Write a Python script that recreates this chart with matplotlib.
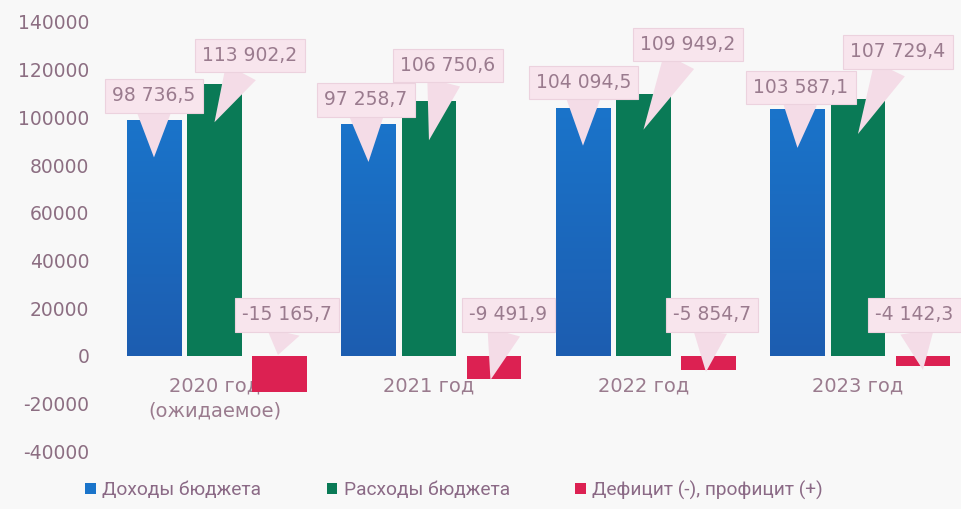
import matplotlib
matplotlib.use('Agg')
import matplotlib.pyplot as plt
import numpy as np
from matplotlib.patches import Patch
from matplotlib.colors import LinearSegmentedColormap

# ---------------- data ----------------
years = ['2020 год\n(ожидаемое)', '2021 год', '2022 год', '2023 год']
income = [98736.5, 97258.7, 104094.5, 103587.1]
expense = [113902.2, 106750.6, 109949.2, 107729.4]
balance = [-15165.7, -9491.9, -5854.7, -4142.3]
income_lbl = ['98 736,5', '97 258,7', '104 094,5', '103 587,1']
expense_lbl = ['113 902,2', '106 750,6', '109 949,2', '107 729,4']
balance_lbl = ['-15 165,7', '-9 491,9', '-5 854,7', '-4 142,3']
series_names = ['Доходы бюджета', 'Расходы бюджета', 'Дефицит (-), профицит (+)']
ytick_vals = [-40000, -20000, 0, 20000, 40000, 60000, 80000, 100000, 120000, 140000]
ytick_lbls = ['-40000', '-20000', '0', '20000', '40000', '60000', '80000',
              '100000', '120000', '140000']

# ---------------- style / layout ----------------
W, H, DPI = 962, 509, 100
BG = '#f8f8f8'
BLUE_TOP, BLUE_BOT = '#1a74ca', '#1d5db0'
GREEN = '#0a7a56'
RED = '#dc2152'
TXT = '#9a7b8e'
TICK = '#8c6e82'
BOX_FC = '#f8e5ed'
BOX_EC = '#ecd2de'
WEDGE = '#f4dce7'

fig = plt.figure(figsize=(W / DPI, H / DPI), dpi=DPI, facecolor=BG)
ax = fig.add_axes([110 / W, (H - 451.4) / H, 852 / W, (451.4 - 22) / H])
ax.set_facecolor('none')

x = np.arange(len(years))
bw = 0.256
off_l, off_r = 0.282, 0.303
PXX = 1 / 214.5          # data units per pixel (x)
PXY = 20000 / 47.7        # data units per pixel (y)

b_inc = ax.bar(x - off_l, income, bw, color=BLUE_TOP, zorder=2)
b_exp = ax.bar(x, expense, bw, color=GREEN, zorder=2)
b_bal = ax.bar(x + off_r, balance, bw, color=RED, zorder=2)

# vertical gradient on the blue bars
cmap = LinearSegmentedColormap.from_list('bl', [BLUE_BOT, BLUE_TOP])
grad = np.linspace(0, 1, 256).reshape(-1, 1)
for r in b_inc:
    x0, y0, w, h = r.get_x(), r.get_y(), r.get_width(), r.get_height()
    im = ax.imshow(grad, cmap=cmap, origin='lower', aspect='auto',
                   extent=[x0, x0 + w, y0, y0 + h], zorder=2.1)
    im.set_clip_path(r)
ax.set_xlim(-0.487, 3.485)
ax.set_ylim(-40000, 140000)

# axes cosmetics
for s in ax.spines.values():
    s.set_visible(False)
ax.spines['bottom'].set_position(('data', 0))
ax.set_yticks(ytick_vals)
ax.set_yticklabels(ytick_lbls, fontsize=13.5, color=TICK)
ax.tick_params(axis='y', length=0, pad=15)
ax.set_xticks(x)
ax.set_xticklabels(years, fontsize=14, color=TXT, linespacing=1.35)
ax.tick_params(axis='x', length=0, pad=15)
for t in ax.get_xticklabels():
    t.set_multialignment('center')

# callouts
def callout(xc, tip_y, tdx, bx, by, text):
    ax.annotate(text, xy=(xc + tdx * PXX, tip_y), xytext=(xc + bx * PXX, by),
                ha='center', va='center', fontsize=13.5, color=TXT, zorder=6,
                bbox=dict(boxstyle='square,pad=0.38', fc=BOX_FC, ec=BOX_EC, lw=0.8),
                arrowprops=dict(arrowstyle='wedge,tail_width=1.8,shrink_factor=0.5',
                                fc=WEDGE, ec='none', shrinkA=0, shrinkB=0))

inc_dx = [0, -2.5, 0.5, 3.5]
inc_dy = [24.5, 24, 25.5, 21.5]
inc_depth = [37, 38, 38, 39]
exp_dx = [35.5, 19, 44.5, 40]
exp_dy = [29, 36, 49.5, 47]
exp_depth = [38, 39, 36, 35]
bal_dx = [7.5, 14.5, 3.5, -8.5]
bal_tdx = [-1.5, -3.5, -2.5, 0]
bal_tip_px = [-1, 24, 16, 14]
bal_box_px = 41

for i in range(len(years)):
    xc = x[i] - off_l
    callout(xc, income[i] - inc_depth[i] * PXY, 0, inc_dx[i],
            income[i] + inc_dy[i] * PXY, income_lbl[i])
    xc = x[i]
    callout(xc, expense[i] - exp_depth[i] * PXY, 0, exp_dx[i],
            expense[i] + exp_dy[i] * PXY, expense_lbl[i])
    xc = x[i] + off_r
    callout(xc, -bal_tip_px[i] * PXY, bal_tdx[i], bal_dx[i],
            bal_box_px * PXY, balance_lbl[i])

# legend
handles = [Patch(facecolor=BLUE_TOP), Patch(facecolor=GREEN), Patch(facecolor=RED)]
leg = fig.legend(handles, series_names, loc='center', bbox_to_anchor=(0.472, 0.037),
                 ncol=3, frameon=False, handlelength=0.55, handleheight=0.55,
                 handletextpad=0.35, columnspacing=3.4,
                 prop={'family': ['Roboto', 'DejaVu Sans'], 'size': 13.8})
for t in leg.get_texts():
    t.set_color('#8b6a86')

fig.savefig('out.png', dpi=DPI, facecolor=BG)
